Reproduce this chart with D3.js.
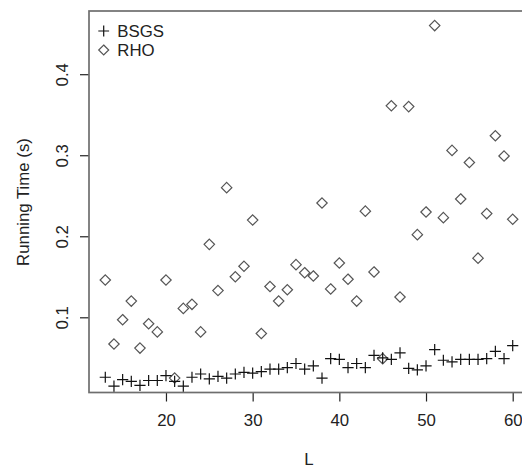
<!DOCTYPE html>
<html>
<head>
<meta charset="utf-8">
<script src="https://cdn.jsdelivr.net/npm/d3@7"></script>
<style>
  body { margin: 0; background: #fff; }
  svg { display: block; font-family: "Liberation Sans", Arial, sans-serif; }
</style>
</head>
<body>
<svg id="chart" width="522" height="468"></svg>
<script>
// Problem size L
const lValues = d3.range(13, 61);

// Running time (s) for each L
const bsgsTimes = [0.026, 0.015, 0.023, 0.021, 0.016, 0.022, 0.022, 0.028, 0.021, 0.015,
  0.026, 0.030, 0.024, 0.027, 0.025, 0.030, 0.032, 0.031, 0.033, 0.036,
  0.036, 0.038, 0.043, 0.036, 0.040, 0.025, 0.049, 0.048, 0.038, 0.043,
  0.038, 0.053, 0.050, 0.048, 0.056, 0.037, 0.035, 0.040, 0.060, 0.047,
  0.045, 0.048, 0.048, 0.048, 0.049, 0.058, 0.049, 0.065];

const rhoTimes = [0.146, 0.067, 0.097, 0.120, 0.062, 0.092, 0.082, 0.146, 0.025, 0.111,
  0.116, 0.082, 0.190, 0.133, 0.260, 0.150, 0.163, 0.220, 0.080, 0.138,
  0.120, 0.134, 0.165, 0.155, 0.151, 0.241, 0.135, 0.167, 0.147, 0.120,
  0.231, 0.156, 0.049, 0.361, 0.125, 0.360, 0.202, 0.230, 0.460, 0.223,
  0.306, 0.246, 0.291, 0.173, 0.228, 0.324, 0.299, 0.221];

const xTicks = [20, 30, 40, 50, 60];
const yTicks = [0.1, 0.2, 0.3, 0.4];
const seriesNames = ['BSGS', 'RHO'];

const margin = {top: 11, left: 89};
const plotW = 440, plotH = 381.5;
const fontSize = '16.8px';

const svg = d3.select('#chart');
const chart = svg.append('g')
    .attr('transform', `translate(${margin.left},${margin.top})`);

// R style axis ranges (data range padded by 4%)
const xPad = (d3.max(lValues) - d3.min(lValues)) * 0.04;
const xScale = d3.scaleLinear()
    .domain([d3.min(lValues) - xPad, d3.max(lValues) + xPad])
    .range([0, plotW]);

const yScale = d3.scaleLinear()
    .domain([0.0072, 0.478])
    .range([plotH, 0]);

// Axes
const xAxis = d3.axisBottom(xScale)
    .tickValues(xTicks)
    .tickSize(9)
    .tickPadding(13)
    .tickSizeOuter(0);

const yAxis = d3.axisLeft(yScale)
    .tickValues(yTicks)
    .tickSize(9)
    .tickFormat(d3.format('.1f'))
    .tickSizeOuter(0);

const xAxisG = chart.append('g')
    .attr('transform', `translate(0,${plotH})`)
    .call(xAxis);
xAxisG.select('.domain').remove();
xAxisG.selectAll('.tick line').attr('stroke', '#222').attr('stroke-width', 1.2);
xAxisG.selectAll('.tick text')
    .attr('fill', '#222')
    .style('font-size', fontSize);

const yAxisG = chart.append('g').call(yAxis);
yAxisG.select('.domain').remove();
yAxisG.selectAll('.tick line').attr('stroke', '#222').attr('stroke-width', 1.2);
yAxisG.selectAll('.tick text')
    .attr('fill', '#222')
    .style('font-size', fontSize)
    .attr('x', null)
    .attr('dy', null)
    .attr('text-anchor', 'middle')
    .attr('transform', 'translate(-21.5,0) rotate(-90)');

// Plot box
chart.append('rect')
    .attr('x', 0)
    .attr('y', 0)
    .attr('width', plotW)
    .attr('height', plotH)
    .attr('fill', 'none')
    .attr('stroke', '#6e6e6e')
    .attr('stroke-width', 1.7);

// Markers
const plusPath = s => `M${-s},0H${s}M0,${-s}V${s}`;
const diamondPath = s => `M0,${-s}L${s},0L0,${s}L${-s},0Z`;

chart.selectAll('.rho')
    .data(lValues.map((l, i) => ({l, v: rhoTimes[i]})))
  .join('path')
    .attr('class', 'rho')
    .attr('transform', d => `translate(${xScale(d.l)},${yScale(d.v)})`)
    .attr('d', diamondPath(5.2))
    .attr('fill', 'none')
    .attr('stroke', '#555')
    .attr('stroke-width', 1.2);

chart.selectAll('.bsgs')
    .data(lValues.map((l, i) => ({l, v: bsgsTimes[i]})))
  .join('path')
    .attr('class', 'bsgs')
    .attr('transform', d => `translate(${xScale(d.l)},${yScale(d.v)})`)
    .attr('d', plusPath(5.6))
    .attr('fill', 'none')
    .attr('stroke', '#111')
    .attr('stroke-width', 1.2);

// Axis titles
svg.append('text')
    .attr('x', 309)
    .attr('y', 465)
    .attr('text-anchor', 'middle')
    .attr('fill', '#222')
    .style('font-size', fontSize)
    .text('L');

svg.append('text')
    .attr('transform', 'translate(29,202) rotate(-90)')
    .attr('text-anchor', 'middle')
    .attr('fill', '#222')
    .style('font-size', fontSize)
    .text('Running Time (s)');

// Legend
const legend = svg.append('g').attr('transform', 'translate(103.7,31)');
seriesNames.forEach((name, i) => {
  const row = legend.append('g').attr('transform', `translate(0,${i * 19})`);
  row.append('path')
      .attr('d', i === 0 ? plusPath(5.4) : diamondPath(5))
      .attr('fill', 'none')
      .attr('stroke', i === 0 ? '#111' : '#555')
      .attr('stroke-width', 1.2);
  row.append('text')
      .attr('x', 13.6)
      .attr('dy', '0.36em')
      .attr('fill', '#222')
      .style('font-size', fontSize)
      .text(name);
});
</script>
</body>
</html>
